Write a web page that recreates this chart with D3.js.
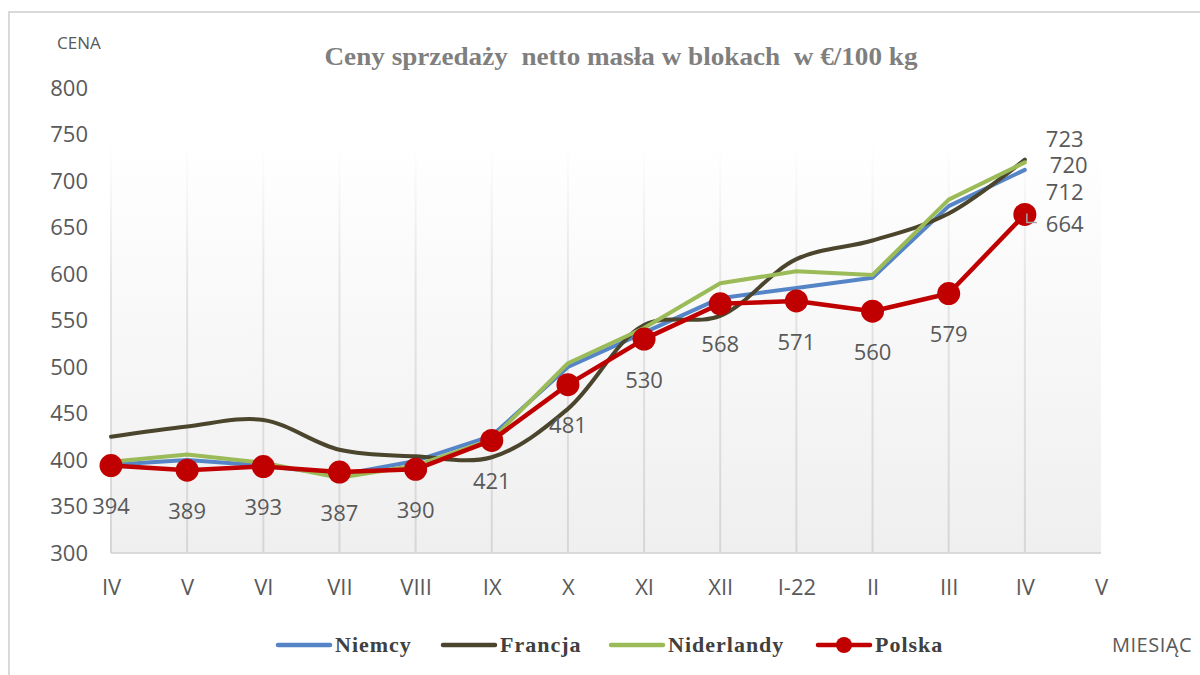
<!DOCTYPE html>
<html>
<head>
<meta charset="utf-8">
<script src="https://cdn.jsdelivr.net/npm/d3@7"></script>
<style>
  body { margin: 0; background: #fff; }
  svg { display: block; }
</style>
</head>
<body>
<div id="chart"></div>
<script>
// chart data
const months = ["IV", "V", "VI", "VII", "VIII", "IX", "X", "XI", "XII", "I-22", "II", "III", "IV ", "V "];
const monthLabels = ["IV", "V", "VI", "VII", "VIII", "IX", "X", "XI", "XII", "I-22", "II", "III", "IV", "V"];
const yTicks = [300, 350, 400, 450, 500, 550, 600, 650, 700, 750, 800];

const niemcy = [395, 400, 394, 384, 399, 426, 500, 537, 574, 585, 596, 673, 712];
const francja = [425, 436, 443, 411, 404, 403, 455, 545, 555, 616, 636, 665, 723];
const niderlandy = [398, 406, 397, 381, 394, 422, 504, 542, 590, 603, 599, 680, 720];
const polska = [394, 389, 393, 387, 390, 421, 481, 530, 568, 571, 560, 579, 664];

const seriesNames = ["Niemcy", "Francja", "Niderlandy", "Polska"];
const seriesColors = ["#5585c6", "#4a452c", "#9bbb59", "#c00000"];

const width = 1200, height = 675;

let svg = d3.select("#chart")
    .append("svg")
    .attr("width", width)
    .attr("height", height);

let x = d3.scalePoint().domain(months).range([111, 1101]);
let y = d3.scaleLinear().domain([300, 800]).range([553, 88]);

const sans = "'Open Sans', 'Liberation Sans', sans-serif";
const serif = "'Liberation Serif', 'DejaVu Serif', serif";
const grey = "#595959";

// outer frame
svg.append("path")
    .attr("d", "M9,675 L9,12 L1200,12")
    .attr("fill", "none")
    .attr("stroke", "#d9d9d9")
    .attr("stroke-width", 2);

let defs = svg.append("defs");
let bg = defs.append("linearGradient").attr("id", "bg")
    .attr("x1", 0).attr("y1", 0).attr("x2", 0).attr("y2", 1);
bg.append("stop").attr("offset", "0%").attr("stop-color", "#ffffff");
bg.append("stop").attr("offset", "100%").attr("stop-color", "#efefef");

let gl = defs.append("linearGradient").attr("id", "gridgrad")
    .attr("gradientUnits", "userSpaceOnUse")
    .attr("x1", 0).attr("y1", 143).attr("x2", 0).attr("y2", 553);
gl.append("stop").attr("offset", "0%").attr("stop-color", "#ffffff");
gl.append("stop").attr("offset", "35%").attr("stop-color", "#e4e4e4");
gl.append("stop").attr("offset", "100%").attr("stop-color", "#d6d6d6");

// plot background
svg.append("rect")
    .attr("x", x(months[0]))
    .attr("y", 143)
    .attr("width", x(months[months.length - 1]) - x(months[0]))
    .attr("height", y(300) - 143)
    .attr("fill", "url(#bg)");

// vertical grid lines
svg.append("g")
    .selectAll("line")
    .data(months.slice(0, 13))
    .enter().append("line")
    .attr("x1", d => x(d)).attr("x2", d => x(d))
    .attr("y1", 143).attr("y2", y(300))
    .attr("stroke", "url(#gridgrad)")
    .attr("stroke-width", 2);

// baseline
svg.append("line")
    .attr("x1", x(months[0])).attr("x2", x(months[months.length - 1]))
    .attr("y1", y(300)).attr("y2", y(300))
    .attr("stroke", "#d9d9d9")
    .attr("stroke-width", 2);

// axes
let yAxis = svg.append("g")
    .attr("transform", `translate(${x(months[0])},0)`)
    .call(d3.axisLeft(y).tickValues(yTicks).tickSize(0).tickPadding(23));
yAxis.select(".domain").remove();
yAxis.selectAll("text")
    .attr("fill", grey)
    .style("font-family", sans)
    .style("font-size", "22px");

let xAxis = svg.append("g")
    .attr("transform", `translate(0,${y(300)})`)
    .call(d3.axisBottom(x).tickSize(0).tickPadding(26).tickFormat((d, i) => monthLabels[i]));
xAxis.select(".domain").remove();
xAxis.selectAll("text")
    .attr("fill", grey)
    .style("font-family", sans)
    .style("font-size", "22px");

// title and axis names
svg.append("text")
    .attr("x", 621).attr("y", 65)
    .attr("text-anchor", "middle")
    .attr("fill", "#7f7f7f")
    .attr("textLength", 593)
    .attr("lengthAdjust", "spacingAndGlyphs")
    .style("font-family", serif)
    .style("font-weight", "bold")
    .style("font-size", "25px")
    .style("white-space", "pre")
    .text("Ceny sprzedaży  netto masła w blokach  w €/100 kg");

svg.append("text")
    .attr("x", 57).attr("y", 49)
    .attr("fill", grey)
    .style("font-family", sans)
    .style("font-size", "17px")
    .text("CENA");

svg.append("text")
    .attr("x", 1112).attr("y", 652)
    .attr("fill", grey)
    .style("font-family", sans)
    .style("font-size", "20px")
    .style("letter-spacing", "0.5px")
    .text("MIESIĄC");

// lines
let allSeries = [niemcy, francja, niderlandy, polska];
let straight = d3.line().x((d, i) => x(months[i])).y(d => y(d));
let smooth = d3.line().x((d, i) => x(months[i])).y(d => y(d)).curve(d3.curveCatmullRom.alpha(0.5));

allSeries.forEach(function (vals, k) {
    svg.append("path")
        .datum(vals)
        .attr("fill", "none")
        .attr("stroke", seriesColors[k])
        .attr("stroke-width", k == 3 ? 4.5 : 4)
        .attr("stroke-linejoin", "round")
        .attr("stroke-linecap", "round")
        .attr("d", k == 1 ? smooth : straight);
});

// Polska markers
svg.append("g")
    .selectAll("circle")
    .data(polska)
    .enter().append("circle")
    .attr("cx", (d, i) => x(months[i]))
    .attr("cy", d => y(d))
    .attr("r", 11.5)
    .attr("fill", "#c00000");

// labels
let lbl = svg.append("g")
    .attr("fill", grey)
    .style("font-family", sans)
    .style("font-size", "22px");

lbl.selectAll("text")
    .data(polska.slice(0, 12))
    .enter().append("text")
    .attr("x", (d, i) => x(months[i]))
    .attr("y", d => y(d) + 41)
    .attr("dy", "0.35em")
    .attr("text-anchor", "middle")
    .text(d => d);

let last = polska.length - 1;
let lx = x(months[last]);
// leader for 664
svg.append("path")
    .attr("d", `M${lx + 2},${y(polska[last]) - 1} L${lx + 2},${y(polska[last]) + 8} L${lx + 12},${y(polska[last]) + 8}`)
    .attr("fill", "none")
    .attr("stroke", "#a6a6a6")
    .attr("stroke-width", 1.5);

const endLabels = [
    [polska[last], y(polska[last]) + 10, 21],
    [francja[last], y(francja[last]) - 20, 21],
    [niderlandy[last], y(niderlandy[last]) + 3, 25],
    [niemcy[last], y(niemcy[last]) + 22, 21]
];
endLabels.forEach(function (e) {
    lbl.append("text")
        .attr("x", lx + e[2])
        .attr("y", e[1])
        .attr("dy", "0.35em")
        .text(e[0]);
});

// legend
const legendX = [278, 443, 611, 818];
let legend = svg.append("g");
seriesNames.forEach(function (name, k) {
    legend.append("line")
        .attr("x1", legendX[k]).attr("x2", legendX[k] + 52)
        .attr("y1", 645).attr("y2", 645)
        .attr("stroke", seriesColors[k])
        .attr("stroke-width", 4.5)
        .attr("stroke-linecap", "round");
    if (k == 3) {
        legend.append("circle")
            .attr("cx", legendX[k] + 26).attr("cy", 645)
            .attr("r", 8)
            .attr("fill", seriesColors[k]);
    }
    legend.append("text")
        .attr("x", legendX[k] + 57)
        .attr("y", 652)
        .attr("fill", "#404040")
        .style("font-family", serif)
        .style("font-weight", "bold")
        .style("font-size", "22px")
        .style("letter-spacing", "1px")
        .text(name);
});
</script>
</body>
</html>
